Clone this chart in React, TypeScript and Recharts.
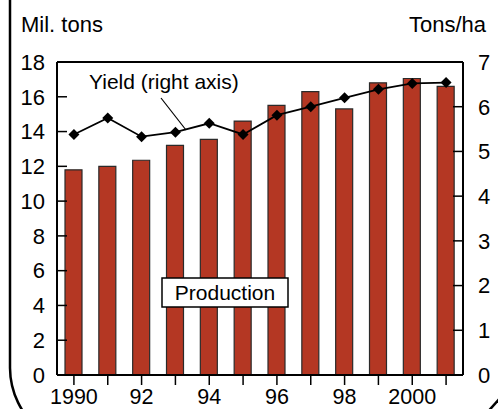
import {
  ComposedChart,
  Bar,
  Line,
  XAxis,
  YAxis,
  ReferenceLine,
} from "recharts";

// Production (mil. tons) and yield (tons/ha), 1990-2001
const years = ["1990", "1991", "1992", "1993", "1994", "1995", "1996", "1997", "1998", "1999", "2000", "2001"];
const tickLabels = ["1990", "", "92", "", "94", "", "96", "", "98", "", "2000", ""];
const production = [11.8, 12.0, 12.35, 13.2, 13.55, 14.6, 15.5, 16.3, 15.3, 16.8, 17.05, 16.6];
const yieldTons = [5.38, 5.75, 5.33, 5.43, 5.63, 5.38, 5.81, 6.0, 6.2, 6.39, 6.52, 6.54];
const leftTicks = [0, 2, 4, 6, 8, 10, 12, 14, 16, 18];
const rightTicks = [0, 1, 2, 3, 4, 5, 6, 7];

const chartData = years.map((y, i) => ({
  year: y,
  production: production[i],
  yield: yieldTons[i],
}));

const FONT = "'Liberation Sans', Arial, Helvetica, sans-serif";
const TICK = { fill: "#000", fontSize: 22, fontFamily: FONT };
const AXIS_LINE = { stroke: "#000", strokeWidth: 2 };
const TICK_LINE = { stroke: "#000", strokeWidth: 1.5 };

const Diamond = (props: any) => {
  const { cx, cy } = props;
  if (cx == null || cy == null) return null;
  return (
    <path
      key={`d-${cx}`}
      d={`M${cx},${cy - 5.5} L${cx + 5.5},${cy} L${cx},${cy + 5.5} L${cx - 5.5},${cy} Z`}
      fill="#000"
    />
  );
};

// year tick: only every other year carries a label
const YearTick = (props: any) => {
  const { x, y, index } = props;
  const label = tickLabels[index] ?? "";
  if (!label) return <g />;
  return (
    <text x={x} y={y} dy={13} textAnchor="middle" fill="#000" fontSize={21.5} fontFamily={FONT}>
      {label}
    </text>
  );
};

export default function App() {
  return (
    <div
      style={{
        position: "absolute",
        left: 0,
        top: 0,
        width: 498,
        height: 409,
        overflow: "hidden",
        background: "#fff",
        fontFamily: FONT,
      }}
    >
      <ComposedChart
        width={498}
        height={409}
        data={chartData}
        margin={{ top: 62, right: 0, bottom: 0, left: 0 }}
        style={{ overflow: "visible" }}
      >
        <XAxis
          dataKey="year"
          height={34}
          interval={0}
          tick={<YearTick />}
          axisLine={AXIS_LINE}
          tickLine={TICK_LINE}
          tickSize={10}
          tickMargin={6}
        />
        <YAxis
          yAxisId="left"
          orientation="left"
          width={57}
          domain={[0, 18]}
          ticks={leftTicks}
          interval={0}
          tick={TICK}
          axisLine={AXIS_LINE}
          tickLine={TICK_LINE}
          tickSize={-10}
          tickMargin={22}
        />
        <YAxis
          yAxisId="right"
          orientation="right"
          width={35}
          domain={[0, 7]}
          ticks={rightTicks}
          interval={0}
          tick={{ ...TICK, textAnchor: "start" }}
          axisLine={AXIS_LINE}
          tickLine={TICK_LINE}
          tickSize={-10}
          tickMargin={25}
        />
        <ReferenceLine yAxisId="left" y={18} stroke="#000" strokeWidth={2} />
        <Bar
          yAxisId="left"
          dataKey="production"
          fill="#b43723"
          stroke="#2a2a2a"
          strokeWidth={1.2}
          barSize={17}
          isAnimationActive={false}
        />
        <Line
          yAxisId="right"
          type="linear"
          dataKey="yield"
          stroke="#000"
          strokeWidth={1.8}
          dot={<Diamond />}
          activeDot={false}
          isAnimationActive={false}
        />
      </ComposedChart>
      <svg
        width={498}
        height={409}
        style={{ position: "absolute", left: 0, top: 0, pointerEvents: "none" }}
      >
        {/* rounded frame */}
        <path d="M10,-5 V368 A80,80 0 0 0 40,430" fill="none" stroke="#000" strokeWidth={2.5} />
        <path d="M484,416 L502,396" fill="none" stroke="#000" strokeWidth={2.5} />
        <text x={21} y={32} fontSize={22} fontFamily={FONT} fill="#000">Mil. tons</text>
        <text x={486} y={32} fontSize={22} fontFamily={FONT} fill="#000" textAnchor="end">Tons/ha</text>
        <text x={89} y={89} fontSize={21} fontFamily={FONT} fill="#000">Yield (right axis)</text>
        <line x1={161} y1={98} x2={186} y2={130} stroke="#000" strokeWidth={1.2} />
        <rect x={162} y={278} width={126} height={29} fill="#fff" stroke="#000" strokeWidth={1.5} />
        <text x={225} y={300} fontSize={21} fontFamily={FONT} fill="#000" textAnchor="middle">Production</text>
      </svg>
    </div>
  );
}
